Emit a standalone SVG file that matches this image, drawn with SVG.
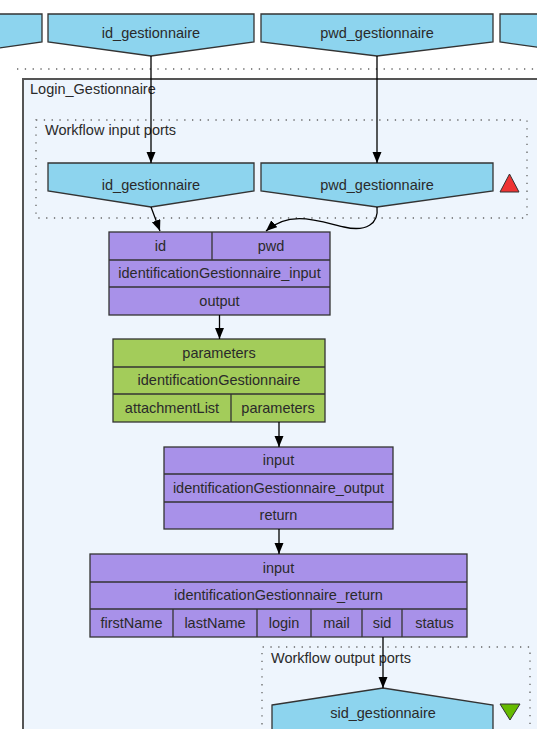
<svg xmlns="http://www.w3.org/2000/svg" width="537" height="729" viewBox="0 0 537 729">
<defs>
<marker id="arr" markerUnits="userSpaceOnUse" markerWidth="12" markerHeight="10" refX="11" refY="4.5" orient="auto">
<path d="M0,0 L11,4.5 L0,9 z" fill="#000"/>
</marker>
<style>
text{font-family:"Liberation Sans",Arial,sans-serif;font-size:14.5px;fill:#2a2a2a;text-anchor:middle}
.lbl{text-anchor:start}
.port{fill:#8dd4ee;stroke:#333;stroke-width:1.3}
.pur{fill:#a891e9;stroke:#333;stroke-width:1.3}
.grn{fill:#a3cc5a;stroke:#333;stroke-width:1.3}
.dot{fill:none;stroke:#666;stroke-width:1.3;stroke-dasharray:1.3 6.5}
.edge{fill:none;stroke:#000;stroke-width:1.3;marker-end:url(#arr)}
.div{stroke:#333;stroke-width:1.3}
</style>
</defs>
<rect width="537" height="729" fill="#fff"/>

<!-- top row of workflow ports (outer) -->
<g id="outer_left">
<polygon class="port" points="-158,14 42,14 42,42 -58,56 -158,42"/>
</g>
<g id="outer_id_gestionnaire">
<polygon class="port" points="48,14 254,14 254,42 151,56 48,42"/>
<text x="151" y="38">id_gestionnaire</text>
</g>
<g id="outer_pwd_gestionnaire">
<polygon class="port" points="261,14 493,14 493,42 377,56 261,42"/>
<text x="377" y="38">pwd_gestionnaire</text>
</g>
<g id="outer_right">
<polygon class="port" points="500,14 700,14 700,42 600,56 500,42"/>
</g>
<line class="dot" x1="17" y1="69" x2="537" y2="69"/>

<!-- nested workflow -->
<g id="Login_Gestionnaire">
<rect x="23" y="79" width="540" height="700" fill="#eef5fd" stroke="#555" stroke-width="2"/>
<text class="lbl" x="30" y="94">Login_Gestionnaire</text>
</g>

<g id="workflow_input_ports">
<rect class="dot" x="36" y="120" width="491" height="98"/>
<text class="lbl" x="45" y="135">Workflow input ports</text>
</g>
<g id="in_id_gestionnaire">
<polygon class="port" points="48,163 254,163 254,191 151,207 48,191"/>
<text x="151" y="190">id_gestionnaire</text>
</g>
<g id="in_pwd_gestionnaire">
<polygon class="port" points="261,163 493,163 493,191 377,207 261,191"/>
<text x="377" y="190">pwd_gestionnaire</text>
</g>
<g id="input_warning">
<polygon points="500,192 519,192 509.5,174" fill="#ee3333" stroke="#333" stroke-width="1"/>
</g>

<g id="identificationGestionnaire_input">
<rect class="pur" x="109" y="232" width="221" height="83"/>
<line class="div" x1="109" y1="260" x2="330" y2="260"/>
<line class="div" x1="109" y1="287" x2="330" y2="287"/>
<line class="div" x1="212" y1="232" x2="212" y2="260"/>
<text x="160.5" y="251">id</text>
<text x="271" y="251">pwd</text>
<text x="219.5" y="278">identificationGestionnaire_input</text>
<text x="219.5" y="306">output</text>
</g>

<g id="identificationGestionnaire">
<rect class="grn" x="113" y="339" width="212" height="83"/>
<line class="div" x1="113" y1="367" x2="325" y2="367"/>
<line class="div" x1="113" y1="394" x2="325" y2="394"/>
<line class="div" x1="231" y1="394" x2="231" y2="422"/>
<text x="219" y="358">parameters</text>
<text x="219" y="385">identificationGestionnaire</text>
<text x="172" y="413">attachmentList</text>
<text x="278" y="413">parameters</text>
</g>

<g id="identificationGestionnaire_output">
<rect class="pur" x="164" y="447" width="229" height="82"/>
<line class="div" x1="164" y1="474" x2="393" y2="474"/>
<line class="div" x1="164" y1="502" x2="393" y2="502"/>
<text x="278.5" y="465">input</text>
<text x="278.5" y="493">identificationGestionnaire_output</text>
<text x="278.5" y="520">return</text>
</g>

<g id="identificationGestionnaire_return">
<rect class="pur" x="90" y="554" width="377" height="83"/>
<line class="div" x1="90" y1="582" x2="467" y2="582"/>
<line class="div" x1="90" y1="609" x2="467" y2="609"/>
<line class="div" x1="173" y1="609" x2="173" y2="637"/>
<line class="div" x1="257" y1="609" x2="257" y2="637"/>
<line class="div" x1="311" y1="609" x2="311" y2="637"/>
<line class="div" x1="362" y1="609" x2="362" y2="637"/>
<line class="div" x1="402" y1="609" x2="402" y2="637"/>
<text x="278.5" y="573">input</text>
<text x="278.5" y="600">identificationGestionnaire_return</text>
<text x="131.5" y="628">firstName</text>
<text x="215" y="628">lastName</text>
<text x="284" y="628">login</text>
<text x="336.5" y="628">mail</text>
<text x="382" y="628">sid</text>
<text x="434.5" y="628">status</text>
</g>

<g id="workflow_output_ports">
<path class="dot" d="M262,740 L262,647 L530,647 L530,740"/>
<text class="lbl" x="271" y="663">Workflow output ports</text>
</g>
<g id="out_sid_gestionnaire">
<polygon class="port" points="272,705 383,688 493,705 493,760 272,760"/>
<text x="383" y="718">sid_gestionnaire</text>
</g>
<g id="output_ok">
<polygon points="500,704 520,704 510,720" fill="#66bb00" stroke="#333" stroke-width="1"/>
</g>

<g id="connectors">
<line class="edge" x1="151" y1="56" x2="151" y2="163"/>
<line class="edge" x1="377" y1="56" x2="377" y2="163"/>
<path class="edge" d="M151,207 L160,231"/>
<path class="edge" d="M377,207 C379,224 366,232 344,227 C318,221 290,210 266,231"/>
<line class="edge" x1="219.5" y1="315" x2="219.5" y2="339"/>
<line class="edge" x1="279" y1="422" x2="279" y2="447"/>
<line class="edge" x1="279" y1="529" x2="279" y2="554"/>
<line class="edge" x1="383" y1="637" x2="383" y2="688"/>
</g>
</svg>
